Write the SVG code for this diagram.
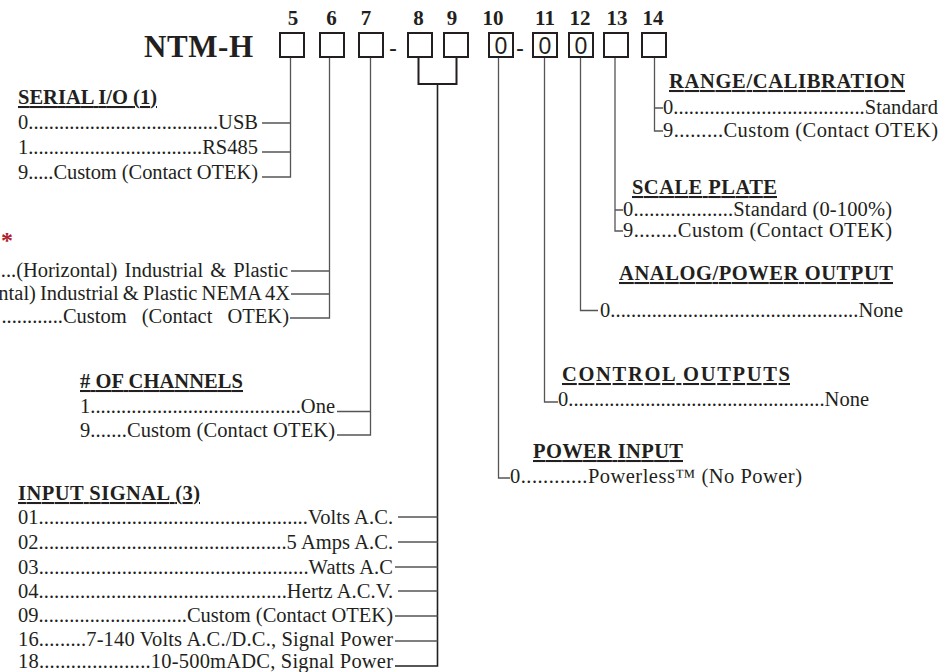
<svg xmlns="http://www.w3.org/2000/svg" width="948" height="672" viewBox="0 0 948 672">
<style>
.t{font-family:"Liberation Serif","Times New Roman",serif;font-size:20.5px;fill:#231f20}
.h{font-weight:bold;text-decoration:underline}
.n{font-family:"Liberation Serif","Times New Roman",serif;font-weight:bold;font-size:21px;fill:#231f20;text-anchor:middle}
.z{font-family:"Liberation Sans",Arial,sans-serif;font-size:23px;fill:#231f20;text-anchor:middle}
.dash{font-family:"Liberation Sans",Arial,sans-serif;font-size:24px;fill:#231f20}
.box{fill:#fff;stroke:#231f20;stroke-width:2}
.ln{fill:none;stroke:#555;stroke-width:1.3}
.br{fill:none;stroke:#231f20;stroke-width:2}
.e{text-anchor:end}
</style>
<rect width="948" height="672" fill="#fff"/>
<g id="connectors">
<path class="ln" d="M290.5 57V177H262M262 123H290.5M262 152H290.5"/>
<path class="ln" d="M329.5 57V318H290M291 271H329.5M291 294H329.5"/>
<path class="ln" d="M370.5 57V435H337M337 411.5H370.5"/>
<path class="br" d="M418.5 57V84H456.5V57"/>
<path class="br" d="M437.5 84V666H395" style="stroke-width:1.6"/>
<path class="ln" d="M398 517H437.5M398 542H437.5M395 567H437.5M398 591H437.5M395 616H437.5M395 641H437.5"/>
<path class="ln" d="M498.5 57V478H510"/>
<path class="ln" d="M544.5 57V402H558"/>
<path class="ln" d="M580.5 57V310.5H598"/>
<path class="ln" d="M615 57V231H623M615 210H623"/>
<path class="ln" d="M654.5 57V131H663M654.5 108H663"/>
</g>
<g id="model-code">
<text x="144" y="57" textLength="109" style="font-family:'Liberation Serif','Times New Roman',serif;font-weight:bold;font-size:31px;fill:#231f20">NTM-H</text>
<text class="n" x="293" y="25">5</text>
<text class="n" x="331.5" y="25">6</text>
<text class="n" x="366" y="25">7</text>
<text class="n" x="418.5" y="25">8</text>
<text class="n" x="452" y="25">9</text>
<text class="n" x="493" y="25">10</text>
<text class="n" x="545" y="25">11</text>
<text class="n" x="580" y="25">12</text>
<text class="n" x="617" y="25">13</text>
<text class="n" x="653" y="25">14</text>
<rect class="box" x="280" y="33" width="24" height="24"/>
<rect class="box" x="320" y="33" width="24" height="24"/>
<rect class="box" x="359" y="33" width="24" height="24"/>
<text class="dash" x="389" y="56">-</text>
<rect class="box" x="408" y="33" width="24" height="24"/>
<rect class="box" x="444" y="33" width="24" height="24"/>
<rect class="box" x="489" y="33" width="24" height="24"/>
<text class="z" x="501" y="54">0</text>
<text class="dash" x="516" y="56">-</text>
<rect class="box" x="533" y="33" width="24" height="24"/>
<text class="z" x="545" y="54">0</text>
<rect class="box" x="569" y="33" width="24" height="24"/>
<text class="z" x="581" y="54">0</text>
<rect class="box" x="604" y="33" width="24" height="24"/>
<rect class="box" x="642" y="33" width="24" height="24"/>
</g>
<g id="serial-io">
<text class="t h" x="18" y="104" textLength="139">SERIAL I/O (1)</text>
<text class="t" x="18" y="129" textLength="240">0.....................................USB</text>
<text class="t" x="18" y="154" textLength="240">1..................................RS485</text>
<text class="t" x="18" y="179" textLength="240">9.....Custom (Contact OTEK)</text>
</g>
<g id="housing">
<text x="1" y="248" style="font-family:'Liberation Serif',serif;font-weight:bold;font-size:24px;fill:#b01e2e">*</text>
<text class="t e" x="288" y="277" word-spacing="2">....(Horizontal) Industrial &amp; Plastic</text>
<text class="t e" x="290" y="300" word-spacing="-1">ntal) Industrial &amp; Plastic NEMA 4X</text>
<text class="t e" x="289" y="323" word-spacing="10">............Custom (Contact OTEK)</text>
</g>
<g id="channels">
<text class="t h" x="80" y="388" textLength="163"># OF CHANNELS</text>
<text class="t" x="80" y="413" textLength="255">1.........................................One</text>
<text class="t" x="80" y="437" textLength="255">9.......Custom (Contact OTEK)</text>
</g>
<g id="input-signal">
<text class="t h" x="18" y="500" textLength="182">INPUT SIGNAL (3)</text>
<text class="t" x="18" y="524" textLength="375">01....................................................Volts A.C.</text>
<text class="t" x="18" y="549" textLength="375">02................................................5 Amps A.C.</text>
<text class="t" x="18" y="573.5" textLength="375">03....................................................Watts A.C</text>
<text class="t" x="18" y="598" textLength="375">04................................................Hertz A.C.V.</text>
<text class="t" x="18" y="622" textLength="375">09.............................Custom (Contact OTEK)</text>
<text class="t" x="18" y="646" textLength="375">16.........7-140 Volts A.C./D.C., Signal Power</text>
<text class="t" x="18" y="668" textLength="375">18.....................10-500mADC, Signal Power</text>
</g>
<g id="power-input">
<text class="t h" x="533" y="458" textLength="150">POWER INPUT</text>
<text class="t" x="510" y="483" textLength="292">0............Powerless™ (No Power)</text>
</g>
<g id="control-outputs">
<text class="t h" x="562" y="381" textLength="228">CONTROL OUTPUTS</text>
<text class="t" x="558" y="406" textLength="311">0..................................................None</text>
</g>
<g id="analog-power-output">
<text class="t h" x="619" y="280" textLength="274">ANALOG/POWER OUTPUT</text>
<text class="t" x="600" y="317" textLength="303">0................................................None</text>
</g>
<g id="scale-plate">
<text class="t h" x="632" y="194" textLength="145">SCALE PLATE</text>
<text class="t" x="623" y="216" textLength="269">0...................Standard (0-100%)</text>
<text class="t" x="623" y="237" textLength="269">9........Custom (Contact OTEK)</text>
</g>
<g id="range-calibration">
<text class="t h" x="669" y="88" textLength="236">RANGE/CALIBRATION</text>
<text class="t" x="663" y="114" textLength="275">0.....................................Standard</text>
<text class="t" x="663" y="137" textLength="275">9.........Custom (Contact OTEK)</text>
</g>
</svg>
